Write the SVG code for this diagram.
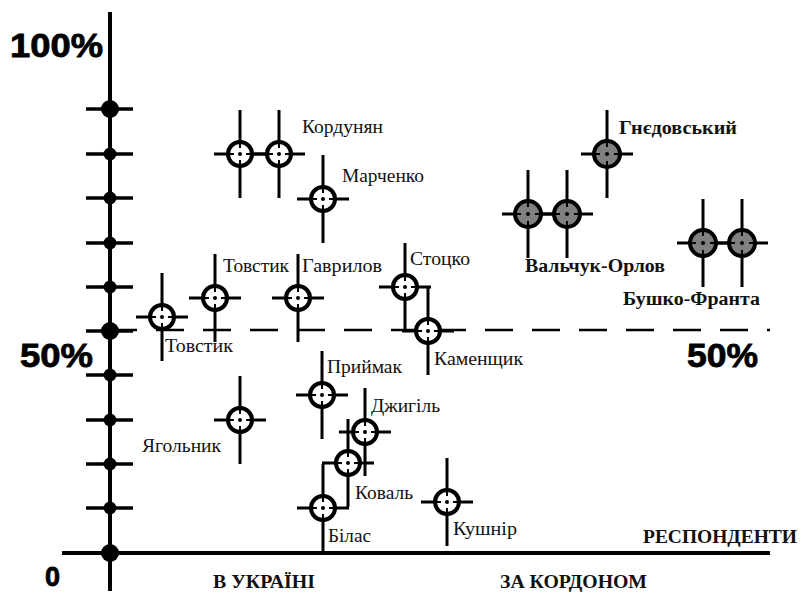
<svg xmlns="http://www.w3.org/2000/svg" xmlns:xlink="http://www.w3.org/1999/xlink" width="801" height="595" viewBox="0 0 801 595">
<style>
.lbl{font-family:"Liberation Serif","Times New Roman",serif;font-size:18px;fill:#111}
.b{font-weight:bold}
.pct{font-family:"Liberation Sans",Arial,sans-serif;font-weight:bold;font-size:33px;fill:#000;stroke:#000;stroke-width:0.8}
.ax{stroke:#000;stroke-width:4;fill:none}
.tk{stroke:#000;stroke-width:3.5}
.xl{stroke:#000;stroke-width:3}
.st{stroke:#000;stroke-width:2}
</style>
<defs>
<g id="openNode">
<line class="xl" x1="0" y1="-44" x2="0" y2="44"/>
<line class="xl" x1="-26" y1="0" x2="26" y2="0"/>
<circle r="12" fill="#fff" stroke="#000" stroke-width="4"/>
<path class="st" d="M0,-10V-6M0,6V10M-10,0H-6M6,0H10"/>
<circle r="2" fill="#000"/>
</g>
<g id="grayNode">
<line class="xl" x1="0" y1="-44" x2="0" y2="44"/>
<line class="xl" x1="-26" y1="0" x2="26" y2="0"/>
<circle r="13" fill="#808080" stroke="#000" stroke-width="4"/>
<path class="st" d="M0,-11V-7M0,7V11M-11,0H-7M7,0H11"/>
<circle r="2" fill="#000"/>
</g>
</defs>
<rect width="801" height="595" fill="#fff"/>
<g id="axes">
<line class="ax" x1="110" y1="12" x2="110" y2="591"/>
<line class="ax" x1="62" y1="553" x2="770" y2="553"/>
<line x1="109" y1="330" x2="770" y2="330" stroke="#000" stroke-width="2.5" stroke-dasharray="28 19"/>
<g class="tk">
<line x1="86" y1="109" x2="133" y2="109"/>
<line x1="86" y1="154" x2="133" y2="154"/>
<line x1="86" y1="198" x2="133" y2="198"/>
<line x1="86" y1="243" x2="133" y2="243"/>
<line x1="86" y1="287" x2="133" y2="287"/>
<line x1="86" y1="331" x2="133" y2="331"/>
<line x1="86" y1="375" x2="133" y2="375"/>
<line x1="86" y1="420" x2="133" y2="420"/>
<line x1="86" y1="464" x2="133" y2="464"/>
<line x1="86" y1="508" x2="133" y2="508"/>
</g>
<g fill="#000">
<circle cx="110" cy="109" r="9"/>
<circle cx="110" cy="154" r="6.5"/>
<circle cx="110" cy="198" r="6.5"/>
<circle cx="110" cy="243" r="6.5"/>
<circle cx="110" cy="287" r="6.5"/>
<circle cx="110" cy="331" r="9"/>
<circle cx="110" cy="375" r="6.5"/>
<circle cx="110" cy="420" r="6.5"/>
<circle cx="110" cy="464" r="6.5"/>
<circle cx="110" cy="508" r="6.5"/>
<circle cx="110" cy="553" r="9"/>
</g>
<text class="pct" x="10" y="57" textLength="93" lengthAdjust="spacingAndGlyphs">100%</text>
<text class="pct" x="20" y="367" textLength="73" lengthAdjust="spacingAndGlyphs">50%</text>
<text class="pct" x="687" y="367" textLength="71" lengthAdjust="spacingAndGlyphs">50%</text>
<text class="pct" x="45" y="586" style="font-size:27px">0</text>
<text class="lbl b" x="643" y="543" textLength="154" lengthAdjust="spacingAndGlyphs">РЕСПОНДЕНТИ</text>
<text class="lbl b" x="213" y="588" textLength="102" lengthAdjust="spacingAndGlyphs">В УКРАЇНІ</text>
<text class="lbl b" x="500" y="588" textLength="147" lengthAdjust="spacingAndGlyphs">ЗА КОРДОНОМ</text>
</g>
<g id="kordunyan">
<use xlink:href="#openNode" x="240" y="154"/>
<use xlink:href="#openNode" x="279" y="154"/>
<text class="lbl" x="302" y="133" textLength="81" lengthAdjust="spacingAndGlyphs">Кордунян</text>
</g>
<g id="marchenko">
<use xlink:href="#openNode" x="323" y="199"/>
<text class="lbl" x="342" y="182" textLength="82" lengthAdjust="spacingAndGlyphs">Марченко</text>
</g>
<g id="tovstyk-1">
<use xlink:href="#openNode" x="215" y="298"/>
<text class="lbl" x="223" y="272" textLength="66" lengthAdjust="spacingAndGlyphs">Товстик</text>
</g>
<g id="havrylov">
<use xlink:href="#openNode" x="298" y="298"/>
<text class="lbl" x="302" y="272" textLength="80" lengthAdjust="spacingAndGlyphs">Гаврилов</text>
</g>
<g id="stotsko">
<use xlink:href="#openNode" x="405" y="287"/>
<text class="lbl" x="410" y="265" textLength="60" lengthAdjust="spacingAndGlyphs">Стоцко</text>
</g>
<g id="kamenshchyk">
<use xlink:href="#openNode" x="428" y="331"/>
<text class="lbl" x="434" y="365" textLength="89" lengthAdjust="spacingAndGlyphs">Каменщик</text>
</g>
<g id="tovstyk-2">
<use xlink:href="#openNode" x="162" y="317"/>
<text class="lbl" x="165" y="352" textLength="68" lengthAdjust="spacingAndGlyphs">Товстик</text>
</g>
<g id="pryimak">
<use xlink:href="#openNode" x="322" y="395"/>
<text class="lbl" x="327" y="373" textLength="75" lengthAdjust="spacingAndGlyphs">Приймак</text>
</g>
<g id="yaholnyk">
<use xlink:href="#openNode" x="240" y="420"/>
<text class="lbl" x="142" y="452" textLength="79" lengthAdjust="spacingAndGlyphs">Ягольник</text>
</g>
<g id="dzhyhil">
<use xlink:href="#openNode" x="365" y="432"/>
<text class="lbl" x="371" y="412" textLength="69" lengthAdjust="spacingAndGlyphs">Джигіль</text>
</g>
<g id="koval">
<use xlink:href="#openNode" x="348" y="463"/>
<text class="lbl" x="355" y="499" textLength="58" lengthAdjust="spacingAndGlyphs">Коваль</text>
</g>
<g id="bilas">
<use xlink:href="#openNode" x="323" y="508"/>
<text class="lbl" x="328" y="542" textLength="43" lengthAdjust="spacingAndGlyphs">Білас</text>
</g>
<g id="kushnir">
<use xlink:href="#openNode" x="447" y="502"/>
<text class="lbl" x="453" y="535" textLength="64" lengthAdjust="spacingAndGlyphs">Кушнір</text>
</g>
<g id="hnyedovskyi">
<use xlink:href="#grayNode" x="607" y="154"/>
<text class="lbl b" x="619" y="134" textLength="118" lengthAdjust="spacingAndGlyphs">Гнєдовський</text>
</g>
<g id="valchuk-orlov">
<use xlink:href="#grayNode" x="528" y="214"/>
<use xlink:href="#grayNode" x="567" y="214"/>
<text class="lbl b" x="525" y="272" textLength="140" lengthAdjust="spacingAndGlyphs">Вальчук-Орлов</text>
</g>
<g id="bushko-franta">
<use xlink:href="#grayNode" x="703" y="243"/>
<use xlink:href="#grayNode" x="742" y="243"/>
<text class="lbl b" x="623" y="305" textLength="137" lengthAdjust="spacingAndGlyphs">Бушко-Франта</text>
</g>
</svg>
